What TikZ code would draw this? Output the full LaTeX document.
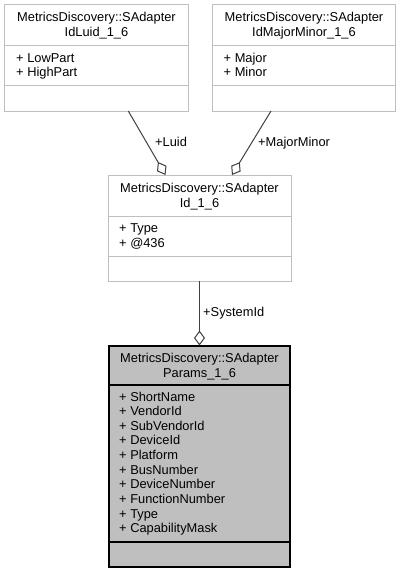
\documentclass[tikz,border=0pt]{standalone}
\usepackage{fontspec}
\setmainfont{Liberation Sans}
\usetikzlibrary{arrows.meta}
\definecolor{boxgrey}{HTML}{BFBFBF}
\definecolor{edgegrey}{HTML}{404040}
\begin{document}
\begin{tikzpicture}[x=1bp,y=-1bp,
  every node/.style={font=\fontsize{12.9}{14.6}\selectfont, inner sep=0pt},
  classbox/.style={draw=boxgrey, line width=1bp, fill=white, minimum width=183bp, minimum height=106bp, anchor=north, outer sep=0pt},
  mainbox/.style={draw=black, line width=2bp, fill=boxgrey, minimum width=181bp, minimum height=221.2bp, anchor=north, outer sep=0pt},
  greyrule/.style={draw=boxgrey, line width=1bp},
  blackrule/.style={draw=black, line width=2bp},
  title/.style={anchor=base},
  attr/.style={anchor=base west},
  edge/.style={draw=edgegrey, line width=1bp, -{Diamond[open,fill=white,length=15bp,width=11bp]}},
  elabel/.style={anchor=base west},
]
\useasboundingbox (0,0) rectangle (400,573);

% --- SAdapterIdLuid_1_6
\node[classbox] (luid) at (96.5,5) {};
\draw[greyrule] ([yshift=-41bp]luid.north west) -- ([yshift=-41bp]luid.north east);
\draw[greyrule] ([yshift=-81bp]luid.north west) -- ([yshift=-81bp]luid.north east);
\node[title] (luidt1) at ([yshift=-17bp]luid.north) {MetricsDiscovery::SAdapter};
\node[title] (luidt2) at ([yshift=-32bp]luid.north) {IdLuid\_1\_6};
\node[attr] (luida1) at ([xshift=11bp,yshift=-57.5bp]luid.north west) {+ LowPart};
\node[attr] (luida2) at ([xshift=11bp,yshift=-72bp]luid.north west) {+ HighPart};

% --- SAdapterIdMajorMinor_1_6
\node[classbox] (majmin) at (304,5) {};
\draw[greyrule] ([yshift=-41bp]majmin.north west) -- ([yshift=-41bp]majmin.north east);
\draw[greyrule] ([yshift=-81bp]majmin.north west) -- ([yshift=-81bp]majmin.north east);
\node[title] (majmint1) at ([yshift=-17bp]majmin.north) {MetricsDiscovery::SAdapter};
\node[title] (majmint2) at ([yshift=-32bp]majmin.north) {IdMajorMinor\_1\_6};
\node[attr] (majmina1) at ([xshift=11bp,yshift=-57.5bp]majmin.north west) {+ Major};
\node[attr] (majmina2) at ([xshift=11bp,yshift=-72bp]majmin.north west) {+ Minor};

% --- SAdapterId_1_6
\node[classbox] (idbox) at (199.5,175) {};
\draw[greyrule] ([yshift=-41bp]idbox.north west) -- ([yshift=-41bp]idbox.north east);
\draw[greyrule] ([yshift=-81bp]idbox.north west) -- ([yshift=-81bp]idbox.north east);
\node[title] (idt1) at ([yshift=-17bp]idbox.north) {MetricsDiscovery::SAdapter};
\node[title] (idt2) at ([yshift=-32bp]idbox.north) {Id\_1\_6};
\node[attr] (ida1) at ([xshift=11bp,yshift=-57.5bp]idbox.north west) {+ Type};
\node[attr] (ida2) at ([xshift=11bp,yshift=-72bp]idbox.north west) {+ @436};

% --- SAdapterParams_1_6
\node[mainbox] (params) at (199.5,345.5) {};
\draw[blackrule] ([yshift=-39bp]params.north west) -- ([yshift=-39bp]params.north east);
\draw[blackrule] ([yshift=-196.2bp]params.north west) -- ([yshift=-196.2bp]params.north east);
\node[title] (part1) at ([yshift=-16.5bp]params.north) {MetricsDiscovery::SAdapter};
\node[title] (part2) at ([yshift=-31.5bp]params.north) {Params\_1\_6};
\foreach \txt [count=\i from 0] in {ShortName,VendorId,SubVendorId,DeviceId,Platform,BusNumber,DeviceNumber,FunctionNumber,Type,CapabilityMask}{
  \node[attr] (para\i) at ([xshift=10bp,yshift={-55.5bp-\i*14.63bp}]params.north west) {+ \txt};
}

% --- connectors
\draw[edge] ([xshift=31.8bp]luid.south) -- ([xshift=-34bp]idbox.north);
\draw[edge] ([xshift=-33bp]majmin.south) -- ([xshift=32.5bp]idbox.north);
\draw[edge] (idbox.south) -- (params.north);

\node[elabel] (lluid) at (155,146.8) {+Luid};
\node[elabel] (lmajmin) at (258,146.8) {+MajorMinor};
\node[elabel] (lsys) at (203,316.5) {+SystemId};
\end{tikzpicture}
\end{document}
